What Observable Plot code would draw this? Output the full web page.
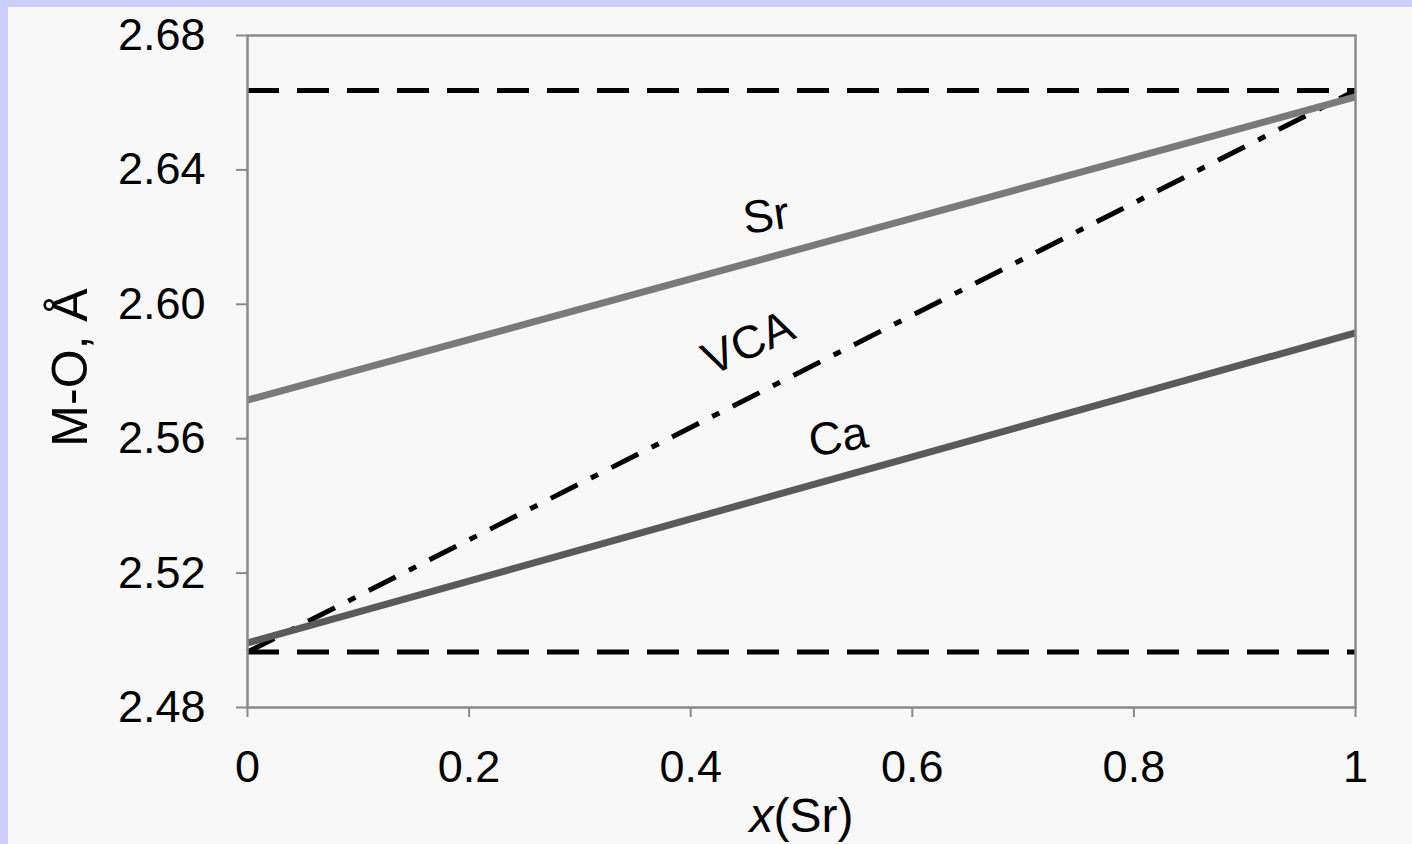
<!DOCTYPE html>
<html>
<head>
<meta charset="utf-8">
<script src="https://cdn.jsdelivr.net/npm/d3@7"></script>
<script src="https://cdn.jsdelivr.net/npm/@observablehq/plot@0.6"></script>
<style>
  html, body { margin: 0; padding: 0; background: #ccccff; overflow: hidden; }
  #wrap { padding-left: 8px; padding-top: 7px; }
  #chart svg { background: #f8f8f8; display: block; }
</style>
</head>
<body>
<div id="wrap"><div id="chart"></div></div>
<script>
// Composition x(Sr)
const xSr = [0, 1];
// M-O distances (Å)
const srValues = [2.5715, 2.6617];
const caValues = [2.4992, 2.5915];
const vcaValues = [2.4965, 2.6636];
// Reference (end-member) levels, dashed
const limitValues = [2.4965, 2.6636];
// Axis ticks
const xTicks = [0, 0.2, 0.4, 0.6, 0.8, 1];
const xTickLabels = ["0", "0.2", "0.4", "0.6", "0.8", "1"];
const yTicks = [2.48, 2.52, 2.56, 2.60, 2.64, 2.68];
// Curve labels
const labelNames = ["Sr", "VCA", "Ca"];
const labelX = [0.468, 0.452, 0.533];
const labelY = [2.6262, 2.5884, 2.5604];
const labelAngle = [-8, -24, -10];

const series = [
  {name: "Sr", values: srValues},
  {name: "Ca", values: caValues},
  {name: "VCA", values: vcaValues}
];
const rows = series.flatMap(s => xSr.map((x, i) => ({series: s.name, x, y: s.values[i]})));
const pick = n => rows.filter(r => r.series === n);

const font = "'Liberation Sans', Arial, Helvetica, sans-serif";

const chart = Plot.plot({
  width: 1404,
  height: 837,
  marginLeft: 239,
  marginRight: 57,
  marginTop: 28,
  marginBottom: 137,
  style: {fontFamily: font, fontSize: "45px", color: "black", background: "#f8f8f8"},
  x: {domain: [0, 1]},
  y: {domain: [2.48, 2.68]},
  marks: [
    Plot.ruleY(limitValues, {stroke: "black", strokeWidth: 5, strokeDasharray: "32,18"}),
    Plot.line(pick("VCA"), {x: "x", y: "y", stroke: "black", strokeWidth: 5, strokeDasharray: "30,15,8,15", strokeLinecap: "butt"}),
    Plot.line(pick("Sr"), {x: "x", y: "y", stroke: "#7a7a7a", strokeWidth: 7, strokeLinecap: "butt"}),
    Plot.line(pick("Ca"), {x: "x", y: "y", stroke: "#5a5a5a", strokeWidth: 7, strokeLinecap: "butt"}),
    Plot.frame({stroke: "#8a8a8a", strokeWidth: 2.5}),
    Plot.axisX({ticks: xTicks, tickFormat: (d, i) => xTickLabels[i], tickSize: 10, tickPadding: 33, stroke: "#8a8a8a", strokeWidth: 2, fill: "black", fontSize: 45, label: null}),
    Plot.axisY({ticks: yTicks, tickFormat: d => d.toFixed(2), tickSize: 11, tickPadding: 31, stroke: "#8a8a8a", strokeWidth: 2, fill: "black", fontSize: 45, label: null}),
    Plot.text(labelNames, {x: labelX, y: labelY, rotate: labelAngle, fontSize: 46, fill: "black"}),
    Plot.text(["M-O, Å"], {frameAnchor: "left", textAnchor: "middle", rotate: -90, dx: -177, dy: -4, fontSize: 50, fill: "black"}),
    Plot.text(["x(Sr)"], {frameAnchor: "bottom", dy: 109, fontSize: 48, fill: "black", lineAnchor: "middle"})
  ]
});

// italic "x" in the x-axis title
d3.select(chart).selectAll("text").filter(function() { return this.textContent === "x(Sr)"; })
  .each(function() {
    const t = d3.select(this);
    t.text(null);
    t.append("tspan").attr("font-style", "italic").text("x");
    t.append("tspan").text("(Sr)");
  });

document.getElementById("chart").appendChild(chart);
</script>
</body>
</html>
